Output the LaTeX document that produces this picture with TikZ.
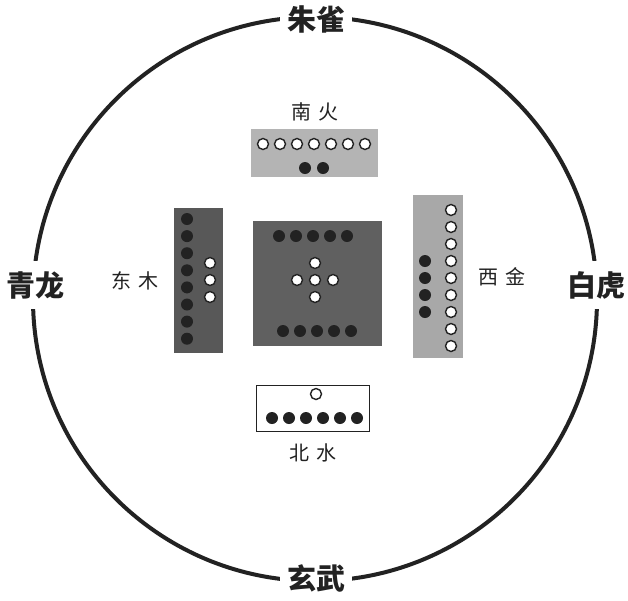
\documentclass[tikz,border=0pt]{standalone}
\usepackage{fontspec}
\usepackage{xcolor}
\usepackage{tikz}
\usetikzlibrary{positioning}
\newfontfamily\cjk{Noto Sans CJK SC}
\definecolor{ink}{HTML}{222222}
\definecolor{fire}{HTML}{B4B4B4}
\definecolor{wood}{HTML}{585858}
\definecolor{earth}{HTML}{606060}
\definecolor{metal}{HTML}{A8A8A8}
\tikzset{
  ring/.style={draw=ink, line width=4pt},
  beast/.style={fill=white, font=\cjk\bfseries\fontsize{29}{29}\selectfont,
                text=ink, inner xsep=7pt, inner ysep=2pt},
  elem/.style={font=\cjk\fontsize{20}{20}\selectfont, text=ink},
  plate/.style={rectangle, draw=none, anchor=north west},
  bdot/.style={circle, fill=ink, minimum size=12pt, inner sep=0pt},
  wdot/.style={circle, fill=white, draw=ink, line width=1.4pt,
               minimum size=11pt, inner sep=0pt}
}
\newcommand{\plateat}[5]{%
  \node[plate, fill=#2, minimum width=#4pt, minimum height=#5pt] (#1) at #3 {};}

\begin{document}
\begin{tikzpicture}[x=1pt, y=-1pt]
  \useasboundingbox[fill=white] (0,0) rectangle (628,600);
  % outer ring
  \node[ring, circle, minimum size=564pt, inner sep=0pt] (ring) at (315,299) {};
  \node[beast] (zhuque) at (316,19) {朱雀};
  \node[beast] (xuanwu) at (316,578) {玄武};
  \node[beast, inner xsep=2pt, inner ysep=10pt] (qinglong) at (35,285) {青龙};
  \node[beast, inner xsep=2pt, inner ysep=10pt] (baihu) at (596,285) {白虎};

  % plates
  \plateat{nan}{fire}{(251,129)}{127}{48}
  \plateat{dong}{wood}{(174,208)}{49}{145}
  \plateat{zhong}{earth}{(253,221)}{129}{125}
  \plateat{xi}{metal}{(413,195)}{50}{163}
  \node[plate, draw=ink, line width=0.8pt, fill=white,
        minimum width=113pt, minimum height=46pt] (bei) at (256,385) {};

  % labels
  \node[elem, above=4pt of nan] (nanlbl) {南\hspace{7pt}火};
  \node[elem, below=8pt of bei] (beilbl) {北\hspace{7pt}水};
  \node[elem, left=12pt of dong] (donglbl) {东\hspace{7pt}木};
  \node[elem, right=12pt of xi] (xilbl) {西\hspace{7pt}金};

  % south: 7 white, 2 black
  \foreach \i in {0,...,6}
    \node[wdot] (n\i) at (263+17*\i,144) {};
  \node[bdot] (nb1) at (305,168) {};
  \node[bdot] (nb2) at (323,168) {};

  % east: 8 black, 3 white
  \foreach \i in {0,...,7}
    \node[bdot] (d\i) at (187,219+17.1*\i) {};
  \foreach \i in {0,1,2}
    \node[wdot] (dw\i) at (210,263+17*\i) {};

  % centre: 5 + cross + 5
  \foreach \i in {0,...,4} {
    \node[bdot] (zt\i) at (279+17*\i,236) {};
    \node[bdot] (zb\i) at (283+17*\i,331) {};
  }
  \node[wdot] (zc) at (315,280) {};
  \node[wdot] (zu) at (315,263) {};
  \node[wdot] (zd) at (315,297) {};
  \node[wdot] (zl) at (297,280) {};
  \node[wdot] (zr) at (333,280) {};

  % west: 9 white, 4 black
  \foreach \i in {0,...,8}
    \node[wdot] (x\i) at (451,210+17*\i) {};
  \foreach \i in {0,...,3}
    \node[bdot] (xb\i) at (425,261+17*\i) {};

  % north: 1 white, 6 black
  \node[wdot] (bw) at (316,394) {};
  \foreach \i in {0,...,5}
    \node[bdot] (b\i) at (272+17*\i,418) {};
\end{tikzpicture}
\end{document}
